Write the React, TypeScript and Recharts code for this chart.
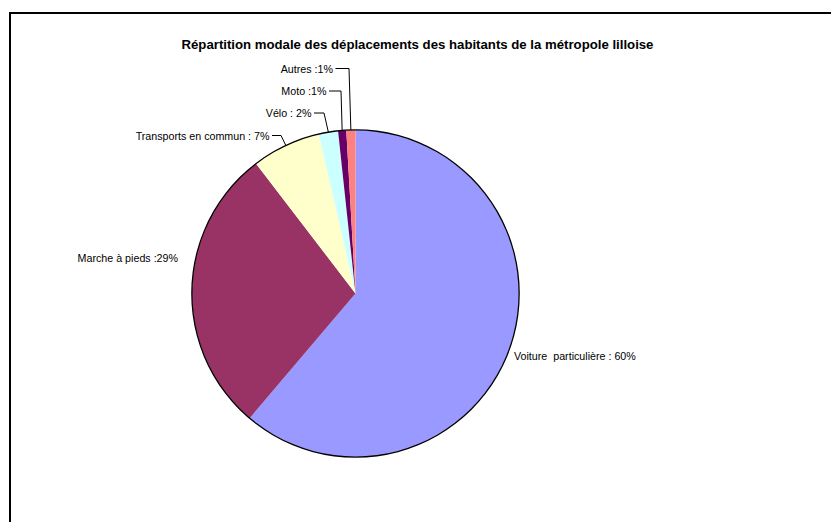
import React from 'react';
import { PieChart, Pie, Cell } from 'recharts';

const categories = [
  'Voiture particulière',
  'Marche à pieds',
  'Transports en commun',
  'Vélo',
  'Moto',
  'Autres',
];
const shares = [61.2, 28.4, 6.8, 1.9, 0.8, 0.9];
const labelTexts = [
  'Voiture  particulière : 60%',
  'Marche à pieds :29%',
  'Transports en commun : 7%',
  'Vélo : 2%',
  'Moto :1%',
  'Autres :1%',
];
const colors = ['#9999FF', '#993366', '#FFFFCC', '#CCFFFF', '#660066', '#FF8080'];

// where Excel left each label (text anchor, optional elbow of the leader line)
const labelLayout = [
  { x: 514, y: 356, anchor: 'start', elbowX: null },
  { x: 178, y: 257.5, anchor: 'end', elbowX: null },
  { x: 269.5, y: 135.5, anchor: 'end', elbowX: 281 },
  { x: 311.5, y: 113, anchor: 'end', elbowX: 324 },
  { x: 326.5, y: 91, anchor: 'end', elbowX: 341 },
  { x: 333, y: 68.5, anchor: 'end', elbowX: 349 },
];

const data = categories.map((name, i) => ({ name, value: shares[i] }));
const ring = [{ name: 'outline', value: 1 }];

const RAD = Math.PI / 180;
const FONT = '"Liberation Sans", Arial, sans-serif';

const renderLabel = (props: any) => {
  const { cx, cy, midAngle, outerRadius, index } = props;
  const lay = labelLayout[index];
  const ex = cx + outerRadius * Math.cos(-midAngle * RAD);
  const ey = cy + outerRadius * Math.sin(-midAngle * RAD);
  return (
    <g key={`lbl-${index}`}>
      {lay.elbowX !== null && (
        <polyline
          points={`${lay.x + 2.5},${lay.y} ${lay.elbowX},${lay.y} ${ex},${ey}`}
          fill="none"
          stroke="#000"
          strokeWidth={1}
        />
      )}
      <text
        x={lay.x}
        y={lay.y}
        textAnchor={lay.anchor}
        dominantBaseline="central"
        fill="#000"
        fontSize={10.7}
        fontFamily={FONT}
        style={{ whiteSpace: 'pre' }}
      >
        {labelTexts[index]}
      </text>
    </g>
  );
};

const App: React.FC = () => {
  return (
    <div
      style={{
        position: 'fixed',
        left: 0,
        top: 0,
        width: 831,
        height: 522,
        overflow: 'hidden',
        background: '#fff',
        fontFamily: FONT,
      }}
    >
      <div
        style={{
          position: 'absolute',
          left: 9,
          top: 12,
          width: 900,
          height: 600,
          borderLeft: '2px solid #000',
          borderTop: '2px solid #000',
        }}
      />
      <div
        style={{
          position: 'absolute',
          left: 0,
          top: 36,
          width: 835,
          textAlign: 'center',
          fontSize: 13.2,
          fontWeight: 'bold',
          lineHeight: '18px',
          color: '#000',
        }}
      >
        Répartition modale des déplacements des habitants de la métropole lilloise
      </div>
      <div style={{ position: 'absolute', left: 0, top: 0 }}>
        <PieChart width={831} height={522} margin={{ top: 0, right: 0, bottom: 0, left: 0 }}>
          <Pie
            data={data}
            dataKey="value"
            nameKey="name"
            cx={355.5}
            cy={293.5}
            outerRadius={163.5}
            startAngle={90}
            endAngle={-270}
            stroke="none"
            label={renderLabel}
            labelLine={false}
            isAnimationActive={false}
          >
            {data.map((d, i) => (
              <Cell key={d.name} fill={colors[i]} />
            ))}
          </Pie>
          <Pie
            data={ring}
            dataKey="value"
            cx={355.5}
            cy={293.5}
            innerRadius={163}
            outerRadius={164.3}
            startAngle={90}
            endAngle={-270}
            fill="#000"
            stroke="none"
            isAnimationActive={false}
          />
        </PieChart>
      </div>
    </div>
  );
};

export default App;
